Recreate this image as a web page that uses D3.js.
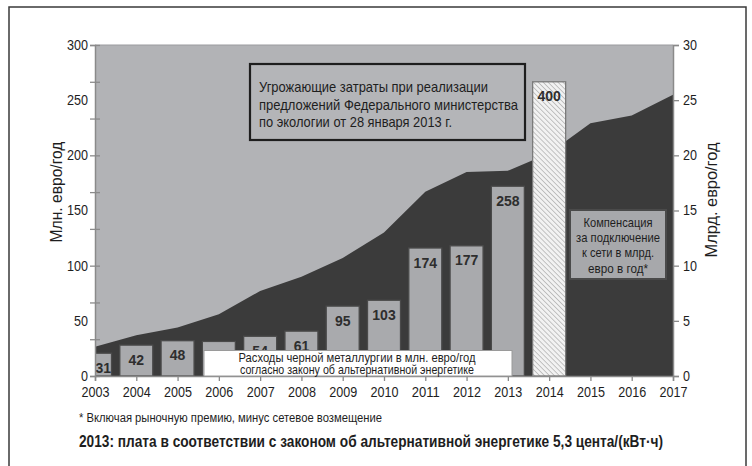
<!DOCTYPE html>
<html>
<head>
<meta charset="utf-8">
<script src="https://cdn.jsdelivr.net/npm/d3@7"></script>
<style>
  body { margin: 0; background: #fff; }
  svg text { font-family: "Liberation Sans", Arial, sans-serif; fill: #1e1e1e; }
</style>
</head>
<body>
<div id="chart"></div>
<script>
// years on the x axis
var years = d3.range(2003, 2018);
// compensation for grid connection, bn euro / year (right axis, dark area)
var compensation = [2.65, 3.7, 4.4, 5.6, 7.7, 9.0, 10.7, 13.0, 16.7, 18.5, 18.6, 20.2, 22.9, 23.6, 25.5];
// steel industry costs, mln euro / year (bars)
var barYears = [2003, 2004, 2005, 2006, 2007, 2008, 2009, 2010, 2011, 2012, 2013, 2014];
var barValues = [31, 42, 48, 47, 54, 61, 95, 103, 174, 177, 258, 400];
var projectedYear = 2014;
var leftTicks = [0, 50, 100, 150, 200, 250, 300];
var rightTicks = [0, 5, 10, 15, 20, 25, 30];

var W = 752, H = 466;
var m = { left: 95, right: 673, top: 45, bottom: 376 };
var noteBox = { x: 204, y: 350.5, w: 308, h: 25.5 };

var svg = d3.select("#chart").append("svg")
    .attr("width", W)
    .attr("height", H);

// squeeze a text to a given width (the original uses a condensed face)
function fit(sel, width) {
    sel.attr("textLength", width).attr("lengthAdjust", "spacingAndGlyphs");
}

// outer frame (open at the bottom)
svg.append("rect")
    .attr("x", 9).attr("y", 7)
    .attr("width", 737).attr("height", 480)
    .attr("fill", "#fff")
    .attr("stroke", "#3a3a3a")
    .attr("stroke-width", 1.5);

var x = d3.scaleLinear().domain([2003, 2017]).range([m.left, m.right]);
var yLeft = d3.scaleLinear().domain([0, 300]).range([m.bottom, m.top]);
var yRight = d3.scaleLinear().domain([0, 30]).range([m.bottom, m.top]);
// bars are drawn on a 0..450 scale
var yBar = d3.scaleLinear().domain([0, 450]).range([m.bottom, m.top]);
var barW = 33;

var defs = svg.append("defs");
defs.append("clipPath").attr("id", "plotclip")
  .append("rect")
    .attr("x", m.left).attr("y", m.top - 2)
    .attr("width", m.right - m.left).attr("height", m.bottom - m.top + 2);

var pat = defs.append("pattern")
    .attr("id", "hatch")
    .attr("patternUnits", "userSpaceOnUse")
    .attr("width", 3.5).attr("height", 3.5)
    .attr("patternTransform", "rotate(-45)");
pat.append("rect").attr("width", 3.5).attr("height", 3.5).attr("fill", "#f2f2f2");
pat.append("line")
    .attr("x1", 0).attr("y1", 0).attr("x2", 0).attr("y2", 3.5)
    .attr("stroke", "#a8a8a8").attr("stroke-width", 1.3);

// plot background
svg.append("rect")
    .attr("x", m.left).attr("y", m.top)
    .attr("width", m.right - m.left).attr("height", m.bottom - m.top)
    .attr("fill", "#b2b3b6");
svg.append("line")
    .attr("x1", m.left).attr("x2", m.right)
    .attr("y1", m.top).attr("y2", m.top)
    .attr("stroke", "#9a9b9e").attr("stroke-width", 1);

// dark area
var area = d3.area()
    .x(function (d, i) { return x(years[i]); })
    .y0(m.bottom)
    .y1(function (d) { return yRight(d); });
svg.append("path")
    .datum(compensation)
    .attr("d", area)
    .attr("fill", "#3b3b3b");

// bars
var gBars = svg.append("g").attr("clip-path", "url(#plotclip)");
var bars = barYears.map(function (yr, i) { return { year: yr, value: barValues[i] }; });
gBars.selectAll(".bar")
    .data(bars)
    .enter().append("rect")
    .attr("class", "bar")
    .attr("x", function (d) { return x(d.year) - barW / 2; })
    .attr("y", function (d) { return yBar(d.value); })
    .attr("width", barW)
    .attr("height", function (d) { return m.bottom - yBar(d.value); })
    .attr("fill", function (d) { return d.year === projectedYear ? "url(#hatch)" : "#a9aaad"; })
    .attr("stroke", function (d) { return d.year === projectedYear ? "#7a7a7a" : "#4a4a4a"; })
    .attr("stroke-width", 1.3);

// labels that would sit entirely under the note box are not shown
var labelled = bars.filter(function (d) {
    var cx = x(d.year);
    var underBox = cx > noteBox.x && cx < noteBox.x + noteBox.w;
    return !(underBox && yBar(d.value) + 9.5 >= noteBox.y);
});
svg.selectAll(".barlabel")
    .data(labelled)
    .enter().append("text")
    .attr("class", "barlabel")
    .attr("x", function (d) {
        var x0 = Math.max(x(d.year) - barW / 2, m.left);
        return (x0 + x(d.year) + barW / 2) / 2;
    })
    .attr("y", function (d) { return yBar(d.value) + 19.5; })
    .attr("text-anchor", "middle")
    .style("font-weight", "bold")
    .style("font-size", "14px")
    .style("fill", "#2e2e2e")
    .text(function (d) { return d.value; });

function tickText(g) {
    g.selectAll("text")
        .style("font-size", "14px")
        .call(function (t) {
            t.attr("textLength", function () { return this.textContent.length * 7; })
             .attr("lengthAdjust", "spacingAndGlyphs");
        });
}

// left axis: ticks on bar scale, labels on mln scale
svg.append("g")
    .attr("transform", "translate(" + m.left + ",0)")
    .call(d3.axisLeft(yBar).tickValues(d3.range(0, 451, 50)).tickSize(5).tickFormat(""))
    .call(function (g) {
        g.select(".domain").attr("stroke", "#8a8a8a").attr("stroke-width", 1.5);
        g.selectAll(".tick line").attr("stroke", "#8a8a8a").attr("x2", -5).attr("x1", 5).attr("stroke-width", 1.3);
    });
svg.append("g")
    .attr("transform", "translate(" + m.left + ",0)")
    .call(d3.axisLeft(yLeft).tickValues(leftTicks).tickSize(0).tickPadding(7))
    .call(function (g) {
        g.select(".domain").remove();
        tickText(g);
    });

// right axis
svg.append("g")
    .attr("transform", "translate(" + m.right + ",0)")
    .call(d3.axisRight(yRight).tickValues(rightTicks).tickSize(6).tickPadding(4))
    .call(function (g) {
        g.select(".domain").attr("stroke", "#8a8a8a").attr("stroke-width", 1.5);
        g.selectAll(".tick line").attr("stroke", "#8a8a8a").attr("stroke-width", 1.3);
        tickText(g);
    });

// bottom axis
svg.append("g")
    .attr("transform", "translate(0," + m.bottom + ")")
    .call(d3.axisBottom(x).tickValues(years).tickFormat(d3.format("d")).tickSize(5).tickPadding(6))
    .call(function (g) {
        g.select(".domain").attr("stroke", "#8a8a8a").attr("stroke-width", 1.5);
        g.selectAll(".tick line").attr("stroke", "#8a8a8a").attr("stroke-width", 1.3);
        tickText(g);
    });

// axis titles
svg.append("text")
    .attr("transform", "translate(62,192) rotate(-90)")
    .attr("text-anchor", "middle")
    .style("font-size", "16px")
    .text("Млн. евро/год")
    .call(fit, 101);
svg.append("text")
    .attr("transform", "translate(717,200) rotate(-90)")
    .attr("text-anchor", "middle")
    .style("font-size", "16px")
    .text("Млрд. евро/год")
    .call(fit, 115);

// white note box over bar bottoms
svg.append("rect")
    .attr("x", noteBox.x).attr("y", noteBox.y)
    .attr("width", noteBox.w).attr("height", noteBox.h)
    .attr("fill", "#fff")
    .attr("stroke", "#9a9a9a").attr("stroke-width", 1);
var noteLines = ["Расходы черной металлургии в млн. евро/год", "согласно закону об альтернативной энергетике"];
var noteWidths = [237, 234];
svg.selectAll(".note")
    .data(noteLines)
    .enter().append("text")
    .attr("x", 357)
    .attr("y", function (d, i) { return 361.5 + i * 12; })
    .attr("text-anchor", "middle")
    .style("font-size", "13px")
    .attr("textLength", function (d, i) { return noteWidths[i]; })
    .attr("lengthAdjust", "spacingAndGlyphs")
    .text(function (d) { return d; });

// top annotation
svg.append("rect")
    .attr("x", 250).attr("y", 64)
    .attr("width", 275).attr("height", 76)
    .attr("fill", "#b4b5b8")
    .attr("stroke", "#1e1e1e").attr("stroke-width", 2.2);
var topLines = ["Угрожающие затраты при реализации",
    "предложений Федерального министерства",
    "по экологии от 28 января 2013 г."];
var topWidths = [229, 259, 193];
svg.selectAll(".topnote")
    .data(topLines)
    .enter().append("text")
    .attr("x", 259)
    .attr("y", function (d, i) { return 92 + i * 17.5; })
    .style("font-size", "15px")
    .attr("textLength", function (d, i) { return topWidths[i]; })
    .attr("lengthAdjust", "spacingAndGlyphs")
    .text(function (d) { return d; });

// compensation annotation
svg.append("rect")
    .attr("x", 570).attr("y", 210)
    .attr("width", 96).attr("height", 69)
    .attr("fill", "#a7a8ab")
    .attr("stroke", "#4a4a4a").attr("stroke-width", 2);
var compLines = ["Компенсация", "за подключение", "к сети в млрд.", "евро в год*"];
var compWidths = [69, 84, 72, 60];
svg.selectAll(".compnote")
    .data(compLines)
    .enter().append("text")
    .attr("x", 618)
    .attr("y", function (d, i) { return 227 + i * 15.2; })
    .attr("text-anchor", "middle")
    .style("font-size", "13.5px")
    .attr("textLength", function (d, i) { return compWidths[i]; })
    .attr("lengthAdjust", "spacingAndGlyphs")
    .text(function (d) { return d; });

// footnotes
svg.append("text")
    .attr("x", 79).attr("y", 422)
    .style("font-size", "12px")
    .text("* Включая рыночную премию, минус сетевое возмещение")
    .call(fit, 303);
svg.append("text")
    .attr("x", 79).attr("y", 447)
    .style("font-size", "16px")
    .style("font-weight", "bold")
    .text("2013: плата в соответствии с законом об альтернативной энергетике 5,3 цента/(кВт·ч)")
    .call(fit, 584);
</script>
</body>
</html>
